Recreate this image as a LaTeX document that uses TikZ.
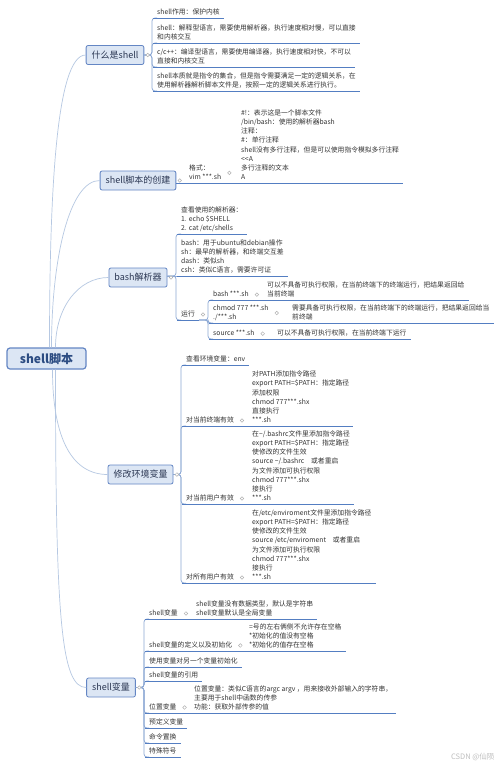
\documentclass[tikz,border=0pt]{standalone}
\usepackage{fontspec}
\setmainfont{Noto Sans CJK SC}
\definecolor{boxfill}{RGB}{220,230,244}
\definecolor{boxdraw}{RGB}{100,134,196}
\definecolor{roottext}{RGB}{44,76,130}
\definecolor{topictext}{RGB}{42,54,82}
\definecolor{trunkline}{RGB}{182,200,226}
\definecolor{linkline}{RGB}{140,168,212}
\definecolor{uline}{RGB}{84,126,194}

\begin{document}
\begin{tikzpicture}[x=1pt,y=-1pt,
	root/.style={draw=boxdraw, fill=boxfill, line width=1.2pt, rounded corners=3pt, minimum width=79pt, minimum height=21pt, font=\fontsize{12}{14}\selectfont\bfseries, text=roottext},
	topic/.style={draw=boxdraw, fill=boxfill, line width=0.8pt, rounded corners=2pt, minimum height=19pt, inner xsep=5.5pt, font=\fontsize{9}{11}\selectfont, text=topictext},
	leaf/.style={anchor=south west, align=left, inner xsep=4pt, inner ysep=1.7pt, text depth=1.5pt, font=\fontsize{6.8}{9.2}\selectfont, text=black!80},
	trunk/.style={draw=trunkline, line width=0.7pt},
	link/.style={draw=linkline, line width=0.7pt, rounded corners=3pt},
	under/.style={draw=uline, line width=0.9pt},
	knob/.style={draw=black!30, fill=white, line width=0.5pt}]
	\fill[white] (0,0) rectangle (500,765);
	\useasboundingbox (0,0) rectangle (500,765);

	\node[root] (root) at (46.5,358.5) {shell脚本};
	\node[topic] (what) at (115,55) {什么是shell};
	\node[topic] (make) at (138,180.5) {shell脚本的创建};
	\node[topic] (bash) at (138,277.5) {bash解析器};
	\node[topic] (envv) at (140.5,474.5) {修改环境变量};
	\node[topic] (vars) at (111,687.5) {shell变量};

	\draw[trunk] ([xshift=3pt]root.north) .. controls +(0,-150) and +(-30,0) .. (what.west);
	\draw[trunk] ([xshift=5pt]root.north) .. controls +(0,-90) and +(-30,0) .. (make.west);
	\draw[trunk] ([xshift=9pt]root.north) .. controls +(0,-40) and +(-30,0) .. (bash.west);
	\draw[trunk] ([xshift=6pt]root.south) .. controls +(0,70) and +(-35,0) .. (envv.west);
	\draw[trunk] ([xshift=9pt]root.south) .. controls +(0,250) and +(-25,0) .. (vars.west);

	% 什么是shell
	\node[leaf] (c1) at (153,18) {shell作用：保护内核};
	\node[leaf] (c2) at (153,43) {shell：解释型语言，需要使用解析器，执行速度相对慢，可以直接\\和内核交互};
	\node[leaf] (c3) at (153,67) {c/c++：编译型语言，需要使用编译器，执行速度相对快，不可以\\直接和内核交互};
	\node[leaf] (c4) at (153,91) {shell本质就是指令的集合，但是指令需要满足一定的逻辑关系，在\\使用解析器解析脚本文件是，按照一定的逻辑关系进行执行。};
	\foreach \c in {c1,c2,c3,c4}
		\draw[link] (what.east) -| ([xshift=-1pt]\c.south west) -- ([xshift=4pt]\c.south west);

	% shell脚本的创建
	\node[leaf] (fmt) at (185,183) {格式：\\vim ***.sh};
	\node[leaf] (fmtb) at (237,183) {\#!：表示这是一个脚本文件\\/bin/bash：使用的解析器bash\\注释：\\\#：单行注释\\shell没有多行注释，但是可以使用指令模拟多行注释\\<\kern0pt<A\\多行注释的文本\\A};
	\draw[under] (make.east |- fmt.south west) -- (fmt.south west);
	\draw[under] (fmt.south east) -- (fmtb.south west);

	% bash解析器
	\node[leaf] (b1) at (177,234) {查看使用的解析器：\\1. echo \$SHELL\\2. cat /etc/shells};
	\node[leaf] (b2) at (177,276) {bash：用于ubuntu和debian操作\\sh：最早的解析器，和终端交互差\\dash：类似sh\\csh：类似C语言，需要许可证};
	\node[leaf] (run) at (177,320) {运行};
	\node[leaf] (r1) at (209,300) {bash ***.sh};
	\node[leaf] (r1g) at (263,300) {可以不具备可执行权限，在当前终端下的终端运行，把结果返回给\\当前终端};
	\node[leaf] (r2) at (209,323) {chmod 777 ***.sh\\./***.sh};
	\node[leaf] (r2g) at (288,323) {需要具备可执行权限，在当前终端下的终端运行，把结果返回给当\\前终端};
	\node[leaf] (r3) at (209,339) {source ***.sh};
	\node[leaf] (r3g) at (273,339) {可以不具备可执行权限，在当前终端下运行};
	\draw[link] (bash.east |- b2.south west) -- ([xshift=4pt]b2.south west);
	\foreach \c in {b1,run}
		\draw[link] (bash.east |- b2.south west) -| ([xshift=-1pt]\c.south west) -- ([xshift=4pt]\c.south west);
	\foreach \c in {r1,r2,r3}
		\draw[link] (run.south east) -| ([xshift=-1pt]\c.south west) -- ([xshift=4pt]\c.south west);

	% 修改环境变量
	\node[leaf] (e1) at (182,365) {查看环境变量：env};
	\node[leaf] (e2) at (182,426) {对当前终端有效};
	\node[leaf] (e2g) at (248,426) {对PATH添加指令路径\\export PATH=\$PATH：指定路径\\添加权限\\chmod 777***.shx\\直接执行\\***.sh};
	\node[leaf] (e3) at (182,504) {对当前用户有效};
	\node[leaf] (e3g) at (248,504) {在\textasciitilde/.bashrc文件里添加指令路径\\export PATH=\$PATH：指定路径\\使修改的文件生效\\source \textasciitilde/.bashrc\quad 或者重启\\为文件添加可执行权限\\chmod 777***.shx\\接执行\\***.sh};
	\node[leaf] (e4) at (182,583) {对所有用户有效};
	\node[leaf] (e4g) at (248,583) {在/etc/enviroment文件里添加指令路径\\export PATH=\$PATH：指定路径\\使修改的文件生效\\source /etc/enviroment\quad 或者重启\\为文件添加可执行权限\\chmod 777***.shx\\接执行\\***.sh};
	\foreach \c in {e1,e2,e3,e4}
		\draw[link] (envv.east) -| ([xshift=-1pt]\c.south west) -- ([xshift=4pt]\c.south west);

	% shell变量
	\node[leaf] (v1) at (145,619) {shell变量};
	\node[leaf] (v1g) at (192,619) {shell变量没有数据类型，默认是字符串\\shell变量默认是全局变量};
	\node[leaf] (v2) at (145,651) {shell变量的定义以及初始化};
	\node[leaf] (v2g) at (245,651) {=号的左右俩侧不允许存在空格\\*初始化的值没有空格\\*初始化的值存在空格};
	\node[leaf] (v3) at (145,667) {使用变量对另一个变量初始化};
	\node[leaf] (v4) at (145,681) {shell变量的引用};
	\node[leaf] (v5) at (145,713) {位置变量};
	\node[leaf] (v5g) at (190,713) {位置变量：类似C语言的argc argv ，用来接收外部输入的字符串，\\主要用于shell中函数的传参\\功能：获取外部传参的值};
	\node[leaf] (v6) at (145,728) {预定义变量};
	\node[leaf] (v7) at (145,743) {命令置换};
	\node[leaf] (v8) at (145,757) {特殊符号};
	\foreach \c in {v1,v2,v3,v4,v5,v6,v7,v8}
		\draw[link] (vars.east) -| ([xshift=-1pt]\c.south west) -- ([xshift=4pt]\c.south west);

	\foreach \c in {c1,c2,c3,c4,fmt,fmtb,b1,b2,run,r1,r1g,r2,r2g,r3,r3g,e1,e2,e2g,e3,e3g,e4,e4g,v1,v1g,v2,v2g,v3,v4,v5,v5g,v6,v7,v8}
		\draw[under] (\c.south west) -- (\c.south east);
	\foreach \p/\q in {r1/r1g,r2/r2g,r3/r3g,e2/e2g,e3/e3g,e4/e4g,v1/v1g,v2/v2g,v5/v5g}
		\draw[under] (\p.south east) -- (\q.south west);

	\foreach \c in {what,make,bash,envv,vars}
		\draw[knob] ([xshift=3.5pt]\c.east) circle (1.8pt);
	\foreach \c in {fmt,run,r1,r2,r3,e2,e3,e4,v1,v2,v5}
		\draw[knob] ([xshift=4pt]\c.east) circle (1.8pt);

	\node[anchor=east, font=\fontsize{7.5}{9}\selectfont, text=black!25] (mark) at (498,757) {CSDN @仙陨};
\end{tikzpicture}
\end{document}
